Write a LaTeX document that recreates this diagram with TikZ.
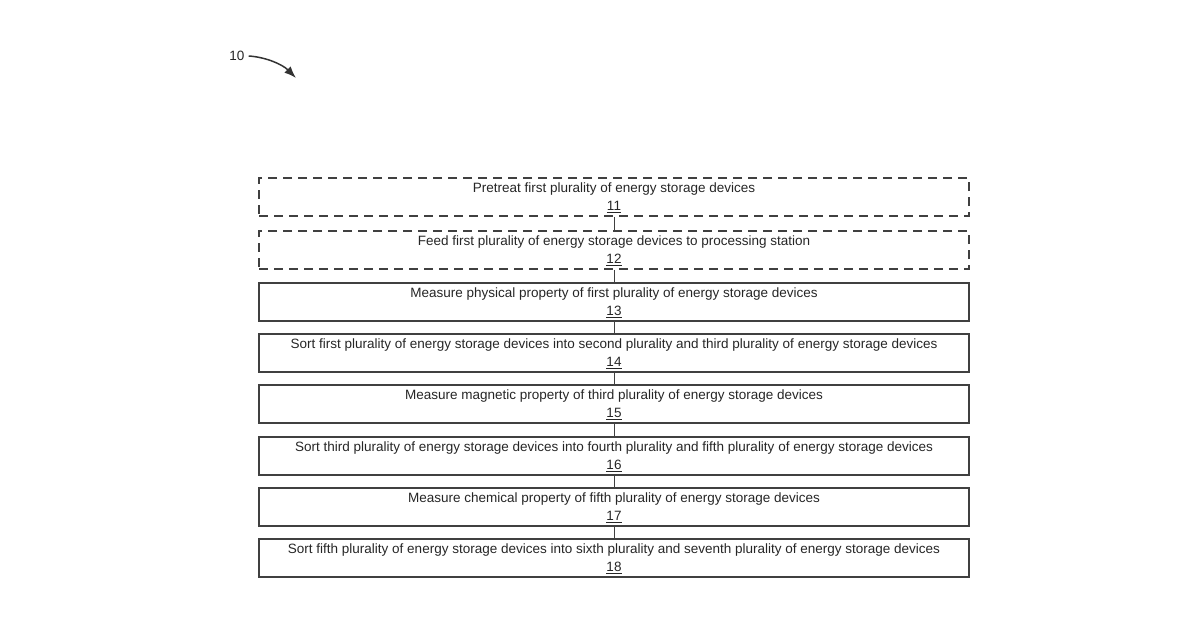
\documentclass[tikz,border=0pt]{standalone}
\usepackage{fontspec}
\setmainfont{Liberation Sans}
\usetikzlibrary{arrows.meta}
\begin{document}
\begin{tikzpicture}[x=1pt,y=-1pt,
  box/.style={draw=black!75,line width=1.6pt,minimum width=710pt,minimum height=38pt,inner sep=0pt},
  dbox/.style={box,dash pattern=on 9pt off 6pt},
  lbl/.style={font=\fontsize{13.5}{15}\selectfont,text=black!85,inner sep=0pt},
  conn/.style={draw=black!75,line width=1pt}]
\useasboundingbox (0,0) rectangle (1200,630);
\foreach \t/\i/\st/\txt in {
 178/1/dbox/{Pretreat first plurality of energy storage devices},
 231/2/dbox/{Feed first plurality of energy storage devices to processing station},
 283/3/box/{Measure physical property of first plurality of energy storage devices},
 334/4/box/{Sort first plurality of energy storage devices into second plurality and third plurality of energy storage devices},
 385/5/box/{Measure magnetic property of third plurality of energy storage devices},
 437/6/box/{Sort third plurality of energy storage devices into fourth plurality and fifth plurality of energy storage devices},
 488/7/box/{Measure chemical property of fifth plurality of energy storage devices},
 539/8/box/{Sort fifth plurality of energy storage devices into sixth plurality and seventh plurality of energy storage devices}}{
  \node[\st] (b\i) at (614,\t+19) {};
  \node[lbl] (t\i) at (614,\t+11) {\txt};
  \node[lbl] (n\i) at (614,\t+29) {\underline{1\i}};
}
\foreach \a/\b in {1/2,2/3,3/4,4/5,5/6,6/7,7/8}{
  \draw[conn] (b\a.south) -- (b\b.north);
}
\node[lbl] (r10) at (237,56) {10};
\coordinate (arr) at (296,78);
\draw[line width=1.5pt,draw=black!80,-{Latex[length=12pt,width=9pt]}] (r10.east) ++(4,0) .. controls (265,57) and (282,64) .. (arr);
\end{tikzpicture}
\end{document}
